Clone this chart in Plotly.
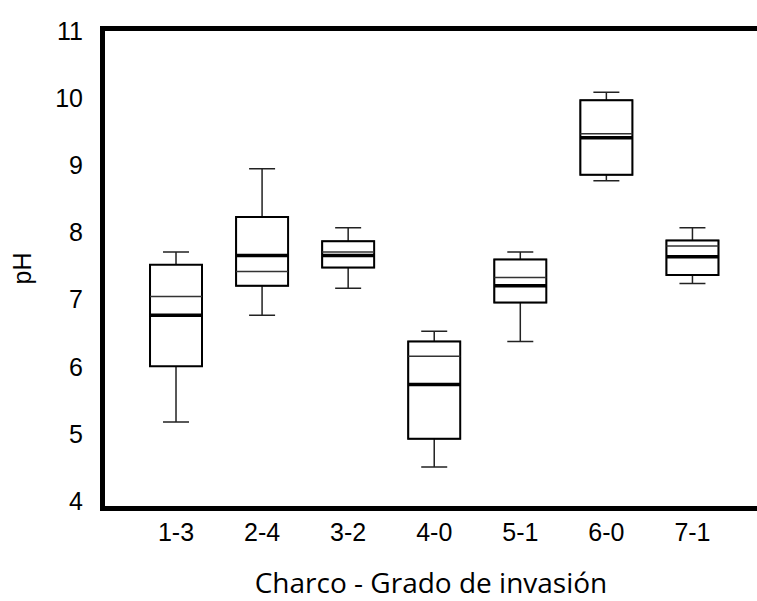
import plotly.graph_objects as go

categories = ["1-3", "2-4", "3-2", "4-0", "5-1", "6-0", "7-1"]
lower = [5.18, 6.77, 7.17, 4.51, 6.38, 8.77, 7.24]
q1 = [6.01, 7.21, 7.48, 4.93, 6.96, 8.86, 7.37]
median = [6.77, 7.66, 7.66, 5.74, 7.21, 9.41, 7.64]
mean = [7.05, 7.42, 7.71, 6.16, 7.33, 9.47, 7.80]
q3 = [7.52, 8.23, 7.87, 6.38, 7.60, 9.97, 7.88]
upper = [7.71, 8.95, 8.07, 6.53, 7.71, 10.09, 8.07]

y_ticks = [4, 5, 6, 7, 8, 9, 10, 11]

BOX_W = 0.604          # box width in data units
PX_PER_UNIT = 86.1     # approx px per category
SEG = BOX_W * PX_PER_UNIT / 1.4  # marker size for line-ew spanning the box

fig = go.Figure()

# whiskers (thin)
fig.add_trace(go.Box(
    x=categories, q1=q1, median=median, q3=q3,
    lowerfence=lower, upperfence=upper,
    width=BOX_W, whiskerwidth=0.5,
    line=dict(color="#222222", width=1.5),
    fillcolor="white", boxpoints=False, hoverinfo="skip",
))
# box bodies (thicker)
fig.add_trace(go.Box(
    x=categories, q1=q1, median=median, q3=q3,
    lowerfence=q1, upperfence=q3,
    width=BOX_W, whiskerwidth=0,
    line=dict(color="black", width=2),
    fillcolor="white", boxpoints=False, hoverinfo="skip",
))
# thin inner line
fig.add_trace(go.Scatter(
    x=categories, y=mean, mode="markers",
    marker=dict(symbol="line-ew", size=SEG, line=dict(color="#333333", width=1.5)),
    hoverinfo="skip",
))
# thick median line
fig.add_trace(go.Scatter(
    x=categories, y=median, mode="markers",
    marker=dict(symbol="line-ew", size=SEG, line=dict(color="black", width=3.5)),
    hoverinfo="skip",
))

fig.update_layout(
    width=757, height=601,
    margin=dict(l=105, r=0, t=31, b=95, autoexpand=False),
    paper_bgcolor="white", plot_bgcolor="white",
    showlegend=False, boxmode="overlay",
    font=dict(family="Liberation Sans, Arial, sans-serif", color="black"),
)
fig.update_xaxes(
    range=[-0.825, 6.75],
    showline=True, linewidth=5, linecolor="black", mirror=True,
    showgrid=False, zeroline=False, ticks="",
    tickfont=dict(size=25, family="Liberation Sans, Arial, sans-serif"),
    ticklabelstandoff=0,
    title=dict(text="Charco - Grado de invasión",
               font=dict(size=28, family="Open Sans, sans-serif"), standoff=32),
)
fig.update_yaxes(
    range=[3.93, 11], tickvals=y_ticks, ticktext=[str(t) for t in y_ticks],
    showline=True, linewidth=5, linecolor="black", mirror=False,
    showgrid=False, zeroline=False, ticks="",
    tickfont=dict(size=25, family="Liberation Sans, Arial, sans-serif"),
    ticklabelstandoff=12,
    title=dict(text="pH", font=dict(size=25, family="Liberation Sans, Arial, sans-serif"),
               standoff=18),
)

fig.write_html("out.html")
